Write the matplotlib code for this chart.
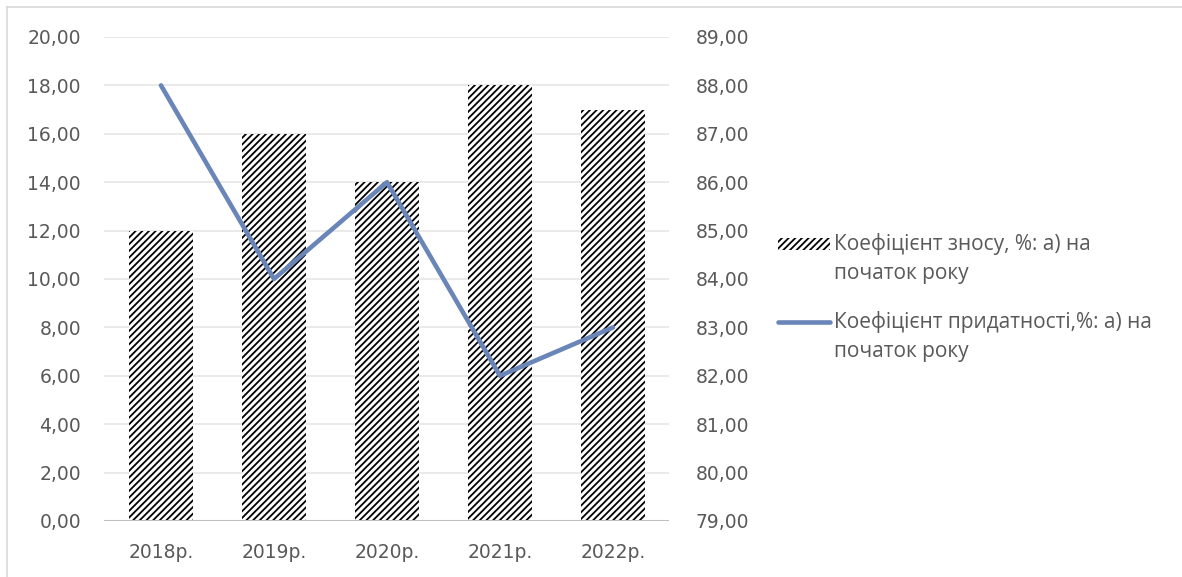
import numpy as np
import matplotlib.pyplot as plt
from matplotlib.lines import Line2D
from matplotlib.patches import Patch, Rectangle
from matplotlib.legend_handler import HandlerBase

# %% podaci

godine = ['2018р.', '2019р.', '2020р.', '2021р.', '2022р.']
koef_znosu = [12, 16, 14, 18, 17]
koef_pridatnosti = [88, 84, 86, 82, 83]

lbl_znos = 'Коефіцієнт зносу, %: а) на\nпочаток року'
lbl_prid = 'Коефіцієнт придатності,%: а) на\nпочаток року'

# %% stil

plt.rcParams['font.family'] = ['DejaVu Sans']
plt.rcParams['hatch.linewidth'] = 1.3
TXT = '#595959'
GRID = '#e6e6e6'
LINIJA = '#6a85b8'
SRAF = '/////'

# %% handleri legende - simbol u visini prvog reda teksta

class GornjiPatch(HandlerBase):
    def create_artists(self, legend, orig_handle, xdescent, ydescent,
                       width, height, fontsize, trans):
        h = 0.58 * fontsize
        y0 = height - ydescent - 0.1 * fontsize - h / 2
        p = Rectangle((-xdescent, y0), width, h)
        self.update_prop(p, orig_handle, legend)
        p.set_transform(trans)
        return [p]


class GornjaLinija(HandlerBase):
    def create_artists(self, legend, orig_handle, xdescent, ydescent,
                       width, height, fontsize, trans):
        y = height - ydescent - 0.1 * fontsize
        ln = Line2D([-xdescent, -xdescent + width], [y, y])
        self.update_prop(ln, orig_handle, legend)
        ln.set_transform(trans)
        return [ln]

# %% grafik

fig = plt.figure(figsize=(11.82, 5.77), dpi=100)
ax = fig.add_axes([0.0884, 0.0971, 0.478, 0.8388])
ax2 = ax.twinx()

x = np.arange(len(godine))
ax.bar(x, koef_znosu, width=0.56, color='white', edgecolor='black',
       hatch=SRAF, linewidth=0, zorder=2)

ax.set_ylim(0, 20)
ax.set_yticks(np.arange(0, 21, 2))
ax.set_yticklabels([f'{v:.2f}'.replace('.', ',') for v in np.arange(0, 21, 2)])
ax.set_xlim(-0.5, len(godine) - 0.5)
ax.set_xticks(x)
ax.set_xticklabels(godine)
ax.grid(axis='y', color=GRID, linewidth=1.2, zorder=0)
ax.set_axisbelow(True)

ax2.plot(x, koef_pridatnosti, color=LINIJA, linewidth=3.3,
         solid_capstyle='round', zorder=3)
ax2.set_ylim(79, 89)
ax2.set_yticks(np.arange(79, 90, 1))
ax2.set_yticklabels([f'{v:.2f}'.replace('.', ',') for v in np.arange(79, 90, 1)])

for a in (ax, ax2):
    for s in a.spines.values():
        s.set_visible(False)
    a.tick_params(length=0, labelsize=13.5, colors=TXT)
ax.tick_params(axis='y', pad=17)
ax.tick_params(axis='x', pad=16)
ax2.tick_params(axis='y', pad=19)

# osnovna linija na nuli
ax.axhline(0, color='#bfbfbf', linewidth=2.2, zorder=4)

# legenda
h_bar = Patch(facecolor='white', edgecolor='black', hatch=SRAF, linewidth=0)
h_lin = Line2D([], [], color=LINIJA, linewidth=3.3, solid_capstyle='round')
leg = fig.legend([h_bar, h_lin], [lbl_znos, lbl_prid], loc='center left',
                 bbox_to_anchor=(0.642, 0.485), frameon=False,
                 prop={'family': 'Open Sans', 'size': 15}, labelcolor=TXT,
                 handlelength=2.5, handleheight=2.2,
                 handletextpad=0.2, labelspacing=1.3,
                 handler_map={Patch: GornjiPatch(), Line2D: GornjaLinija()})
for t in leg.get_texts():
    t.set_linespacing(1.5)

# okvir
fig.add_artist(Line2D([0.006, 1.0], [0.988, 0.988], color='#d9d9d9',
                      linewidth=1.2, transform=fig.transFigure))
fig.add_artist(Line2D([0.006, 0.006], [0.0, 0.988], color='#d9d9d9',
                      linewidth=1.2, transform=fig.transFigure))

plt.savefig('out.png', dpi=100)
